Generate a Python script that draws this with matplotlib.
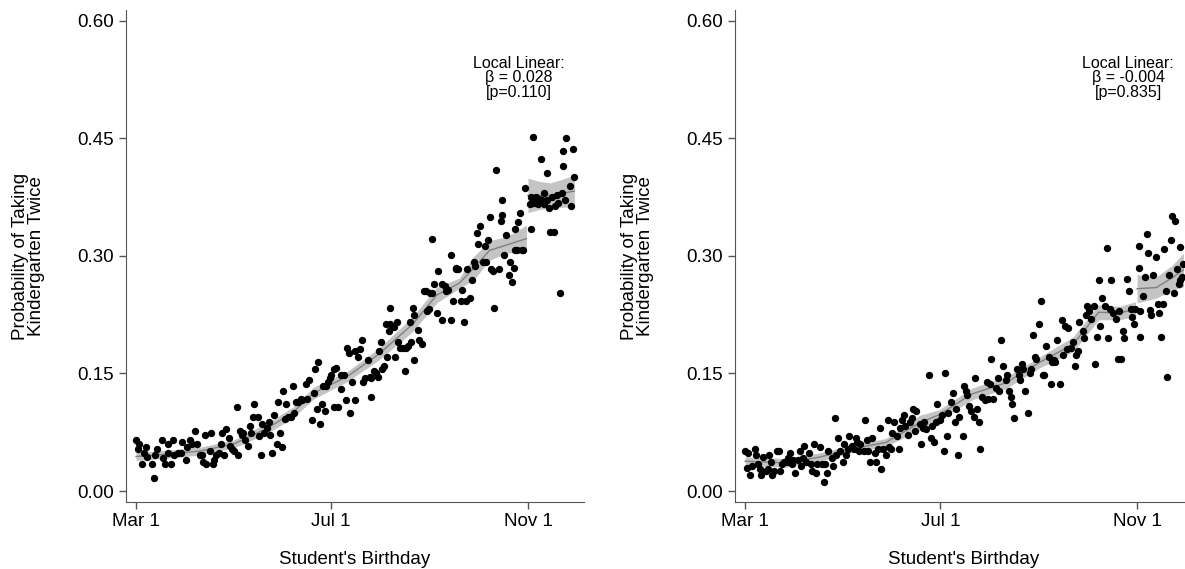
import matplotlib
matplotlib.use("Agg")
import matplotlib.pyplot as plt

plt.rcParams["font.family"] = ["Liberation Sans", "DejaVu Sans"]

# ---- data (day 0 = Mar 1) ----
tick_days = [0, 122, 245]
tick_names = ["Mar 1", "Jul 1", "Nov 1"]
y_ticks = [0.0, 0.15, 0.30, 0.45, 0.60]

# left panel points
left_days = [
    0, 1, 2, 4, 5, 6, 7, 10, 11, 12, 13, 16, 17, 18, 20, 20, 22, 23, 24, 26,
    28, 29, 31, 32, 34, 35, 37, 38, 40, 41, 42, 44, 43, 46, 47, 48, 49, 50, 52, 53,
    54, 55, 56, 58, 59, 60, 61, 63, 64, 65, 66, 67, 68, 70, 71, 72, 73, 74, 76, 77,
    78, 79, 80, 82, 83, 84, 85, 86, 88, 89, 90, 91, 92, 93, 94, 95, 97, 98, 99, 100,
    101, 103, 104, 106, 107, 108, 110, 111, 112, 113, 114, 115, 116, 117, 118, 119, 120, 121, 122, 124,
    124, 125, 126, 128, 128, 130, 131, 132, 133, 134, 135, 137, 137, 139, 140, 141, 142, 143, 145, 146,
    147, 147, 149, 150, 151, 152, 153, 154, 155, 156, 157, 158, 159, 159, 161, 162, 163, 164, 165, 167,
    168, 169, 170, 171, 172, 173, 174, 174, 176, 177, 179, 180, 181, 182, 183, 184, 185, 185, 186, 188,
    189, 191, 191, 193, 194, 195, 197, 197, 198, 200, 200, 201, 203, 204, 205, 206, 207, 209, 210, 211,
    212, 213, 214, 215, 217, 218, 219, 220, 221, 222, 223, 224, 225, 227, 228, 229, 229, 230, 231, 233,
    234, 235, 236, 237, 237, 238, 239, 240, 241, 242, 243,
    246, 247, 247, 248, 249, 250, 251, 252, 253, 254, 255, 255, 257, 257, 258, 259, 260, 261, 262, 263,
    264, 265, 266, 267, 267, 268, 269, 271, 272, 273, 274,
]
left_vals = [
    0.065, 0.053, 0.060, 0.035, 0.049, 0.056, 0.044, 0.035, 0.016, 0.046, 0.053, 0.065, 0.042, 0.035, 0.049, 0.060, 0.035, 0.065, 0.046, 0.049,
    0.049, 0.063, 0.039, 0.056, 0.065, 0.060, 0.076, 0.060, 0.046, 0.046, 0.037, 0.035, 0.072, 0.051, 0.074, 0.035, 0.039, 0.046, 0.049, 0.060,
    0.074, 0.046, 0.079, 0.067, 0.058, 0.053, 0.051, 0.107, 0.046, 0.076, 0.072, 0.074, 0.065, 0.058, 0.083, 0.074, 0.095, 0.111, 0.095, 0.070,
    0.046, 0.086, 0.074, 0.081, 0.088, 0.072, 0.049, 0.097, 0.060, 0.113, 0.074, 0.056, 0.127, 0.092, 0.111, 0.095, 0.095, 0.134, 0.100, 0.113,
    0.113, 0.118, 0.116, 0.137, 0.118, 0.141, 0.090, 0.125, 0.155, 0.104, 0.164, 0.086, 0.111, 0.134, 0.102, 0.134, 0.139, 0.144, 0.148, 0.155,
    0.107, 0.157, 0.107, 0.130, 0.148, 0.148, 0.116, 0.183, 0.176, 0.100, 0.139, 0.116, 0.178, 0.171, 0.181, 0.192, 0.139, 0.144, 0.167, 0.146,
    0.144, 0.120, 0.153, 0.151, 0.146, 0.178, 0.190, 0.155, 0.160, 0.213, 0.171, 0.204, 0.213, 0.234, 0.209, 0.171, 0.216, 0.190, 0.183, 0.183,
    0.153, 0.183, 0.185, 0.216, 0.190, 0.234, 0.225, 0.167, 0.206, 0.192, 0.188, 0.255, 0.255, 0.229, 0.232, 0.253, 0.322, 0.253, 0.264, 0.227,
    0.280, 0.218, 0.264, 0.262, 0.255, 0.257, 0.218, 0.301, 0.243, 0.285, 0.283, 0.283, 0.243, 0.257, 0.216, 0.243, 0.283, 0.246, 0.269, 0.292,
    0.287, 0.329, 0.315, 0.338, 0.292, 0.313, 0.292, 0.320, 0.350, 0.283, 0.280, 0.234, 0.410, 0.283, 0.345, 0.352, 0.371, 0.301, 0.327, 0.276,
    0.292, 0.266, 0.285, 0.308, 0.334, 0.308, 0.343, 0.355, 0.308, 0.308, 0.387,
    0.366, 0.375, 0.334, 0.452, 0.368, 0.375, 0.366, 0.373, 0.424, 0.371, 0.380, 0.366, 0.371, 0.405, 0.361, 0.331, 0.375, 0.331, 0.364, 0.378,
    0.368, 0.253, 0.380, 0.415, 0.434, 0.371, 0.450, 0.389, 0.364, 0.436, 0.401,
]

# left panel local linear fit with CI (before / after Nov 1)
left_fit_days_a = [0, 20, 40, 61, 82, 98, 111, 132, 152, 173, 188, 202, 211, 221, 232, 244]
left_fit_a = [0.044, 0.047, 0.051, 0.060, 0.080, 0.100, 0.125, 0.146, 0.175, 0.213, 0.250, 0.265, 0.284, 0.307, 0.314, 0.322]
left_half_a = [0.005, 0.005, 0.005, 0.005, 0.0065, 0.007, 0.0075, 0.0065, 0.0075, 0.0095, 0.010, 0.0065, 0.015, 0.0125, 0.0105, 0.017]
left_fit_days_b = [245, 252, 259, 267, 274]
left_fit_b = [0.377, 0.377, 0.377, 0.380, 0.3825]
left_half_b = [0.022, 0.018, 0.016, 0.018, 0.0205]

# right panel points
right_days = [
    0, 1, 2, 3, 4, 6, 7, 8, 9, 10, 11, 13, 14, 15, 16, 17, 18, 20, 21, 22,
    23, 24, 26, 27, 28, 29, 30, 31, 33, 34, 35, 36, 37, 38, 40, 41, 42, 43, 44, 45,
    47, 48, 49, 50, 51, 52, 54, 55, 56, 57, 58, 59, 61, 62, 63, 64, 65, 67, 68, 69,
    70, 71, 72, 74, 75, 76, 77, 78, 79, 81, 82, 83, 84, 85, 86, 88, 89, 90, 91, 92,
    93, 95, 96, 97, 98, 99, 100, 102, 103, 104, 105, 106, 107, 109, 110, 111, 112, 113, 115, 116,
    117, 118, 119, 120, 122, 123, 124, 125, 126, 127, 129, 130, 131, 132, 133, 134, 136, 137, 138, 139,
    140, 141, 143, 144, 145, 146, 147, 148, 150, 151, 152, 153, 154, 155, 157, 158, 159, 160, 161, 163,
    164, 165, 166, 167, 168, 170, 171, 172, 173, 174, 175, 177, 178, 179, 180, 181, 182, 184, 185, 186,
    187, 188, 190, 191, 192, 193, 194, 195, 197, 198, 199, 200, 201, 202, 204, 205, 206, 207, 208, 209,
    211, 212, 213, 214, 215, 216, 218, 219, 220, 221, 222, 223, 225, 226, 227, 228, 229, 230, 232, 233,
    234, 235, 236, 237, 239, 240, 241, 242, 243, 244,
    246, 246, 247, 247, 249, 250, 251, 252, 253, 254, 255, 257, 258, 259, 260, 261, 262, 263, 264, 265,
    266, 267, 268, 269, 270, 271, 272, 272, 273, 274,
]
right_vals = [
    0.051, 0.030, 0.049, 0.021, 0.032, 0.053, 0.046, 0.035, 0.028, 0.021, 0.044, 0.025, 0.028, 0.046, 0.037, 0.021, 0.025, 0.051, 0.051, 0.025,
    0.035, 0.037, 0.037, 0.042, 0.049, 0.035, 0.039, 0.023, 0.039, 0.051, 0.032, 0.042, 0.058, 0.037, 0.049, 0.035, 0.025, 0.060, 0.023, 0.035,
    0.056, 0.035, 0.012, 0.035, 0.023, 0.051, 0.042, 0.032, 0.093, 0.046, 0.067, 0.051, 0.037, 0.060, 0.046, 0.053, 0.070, 0.058, 0.053, 0.067,
    0.063, 0.051, 0.060, 0.051, 0.090, 0.065, 0.051, 0.037, 0.067, 0.049, 0.037, 0.053, 0.081, 0.028, 0.053, 0.046, 0.090, 0.056, 0.053, 0.074,
    0.088, 0.070, 0.053, 0.081, 0.090, 0.097, 0.083, 0.072, 0.088, 0.093, 0.104, 0.076, 0.102, 0.086, 0.060, 0.081, 0.088, 0.079, 0.148, 0.067,
    0.083, 0.063, 0.088, 0.111, 0.090, 0.097, 0.051, 0.151, 0.070, 0.100, 0.113, 0.125, 0.088, 0.104, 0.046, 0.095, 0.070, 0.134, 0.127, 0.123,
    0.109, 0.102, 0.095, 0.144, 0.104, 0.088, 0.053, 0.120, 0.116, 0.139, 0.118, 0.137, 0.169, 0.118, 0.132, 0.144, 0.127, 0.192, 0.160, 0.141,
    0.148, 0.127, 0.120, 0.111, 0.093, 0.155, 0.148, 0.141, 0.162, 0.155, 0.127, 0.100, 0.151, 0.155, 0.199, 0.171, 0.169, 0.213, 0.243, 0.148,
    0.148, 0.185, 0.171, 0.137, 0.164, 0.167, 0.164, 0.192, 0.137, 0.218, 0.174, 0.211, 0.181, 0.208, 0.183, 0.190, 0.160, 0.174, 0.178, 0.216,
    0.204, 0.195, 0.225, 0.236, 0.229, 0.220, 0.236, 0.162, 0.197, 0.269, 0.211, 0.246, 0.236, 0.310, 0.195, 0.232, 0.269, 0.227, 0.220, 0.169,
    0.230, 0.169, 0.204, 0.195, 0.271, 0.255, 0.232, 0.222, 0.213, 0.232,
    0.284, 0.312, 0.196, 0.230, 0.249, 0.273, 0.328, 0.304, 0.231, 0.2245, 0.275, 0.298, 0.2385, 0.227, 0.197, 0.2385, 0.309, 0.2555, 0.146, 0.275,
    0.320, 0.351, 0.252, 0.345, 0.283, 0.2635, 0.311, 0.269, 0.273, 0.290,
]

right_fit_days_a = [0, 25, 46, 67, 88, 109, 121, 142, 163, 184, 205, 221, 234, 244]
right_fit_a = [0.038, 0.036, 0.043, 0.054, 0.062, 0.087, 0.097, 0.124, 0.138, 0.164, 0.187, 0.228, 0.227, 0.232]
right_half_a = [0.0055, 0.0055, 0.0055, 0.0045, 0.005, 0.0095, 0.0065, 0.0075, 0.0075, 0.007, 0.0095, 0.0095, 0.0085, 0.0095]
right_fit_days_b = [245, 257, 267, 274]
right_fit_b = [0.258, 0.2595, 0.272, 0.282]
right_half_b = [0.018, 0.0135, 0.016, 0.0215]

notes = ["Local Linear:\n\u03b2 = 0.028\n[p=0.110]", "Local Linear:\n\u03b2 = -0.004\n[p=0.835]"]

fig = plt.figure(figsize=(11.85, 5.69), dpi=100)
ax_l = fig.add_axes([0.1063, 0.1183, 0.3865, 0.8634])
ax_r = fig.add_axes([0.6203, 0.1183, 0.3865, 0.8634])

panels = [
    (ax_l, left_days, left_vals,
     [(left_fit_days_a, left_fit_a, left_half_a), (left_fit_days_b, left_fit_b, left_half_b)], notes[0]),
    (ax_r, right_days, right_vals,
     [(right_fit_days_a, right_fit_a, right_half_a), (right_fit_days_b, right_fit_b, right_half_b)], notes[1]),
]

for ax, days, vals, fits, note in panels:
    for fd, fv, fh in fits:
        lo = [v - h for v, h in zip(fv, fh)]
        hi = [v + h for v, h in zip(fv, fh)]
        ax.fill_between(fd, lo, hi, color="#c4c4c4", lw=0, zorder=1)
        ax.plot(fd, fv, color="#808080", lw=1.0, zorder=2)
    ax.scatter(days, vals, s=28, color="black", lw=0, zorder=3)

    ax.set_xlim(-6.3, 280)
    ax.set_ylim(-0.0136, 0.613)
    ax.set_xticks(tick_days)
    ax.set_xticklabels(tick_names)
    ax.set_yticks(y_ticks)
    ax.set_yticklabels(["%.2f" % t for t in y_ticks])
    ax.tick_params(labelsize=13.5, length=5, color="#555555", width=1, pad=3.5)
    for side in ["top", "right"]:
        ax.spines[side].set_visible(False)
    for side in ["left", "bottom"]:
        ax.spines[side].set_color("#555555")
    ax.set_ylabel("Probability of Taking\nKindergarten Twice", fontsize=13.5, linespacing=0.95)
    ax.yaxis.set_label_coords(-0.177, 0.5)
    ax.set_xlabel("Student's Birthday", fontsize=13.5)
    ax.xaxis.set_label_coords(0.5, -0.10)
    ax.text(239.5, 0.527, note, ha="center", va="center", fontsize=11.5, linespacing=0.95)

fig.savefig("out.png", dpi=100)
